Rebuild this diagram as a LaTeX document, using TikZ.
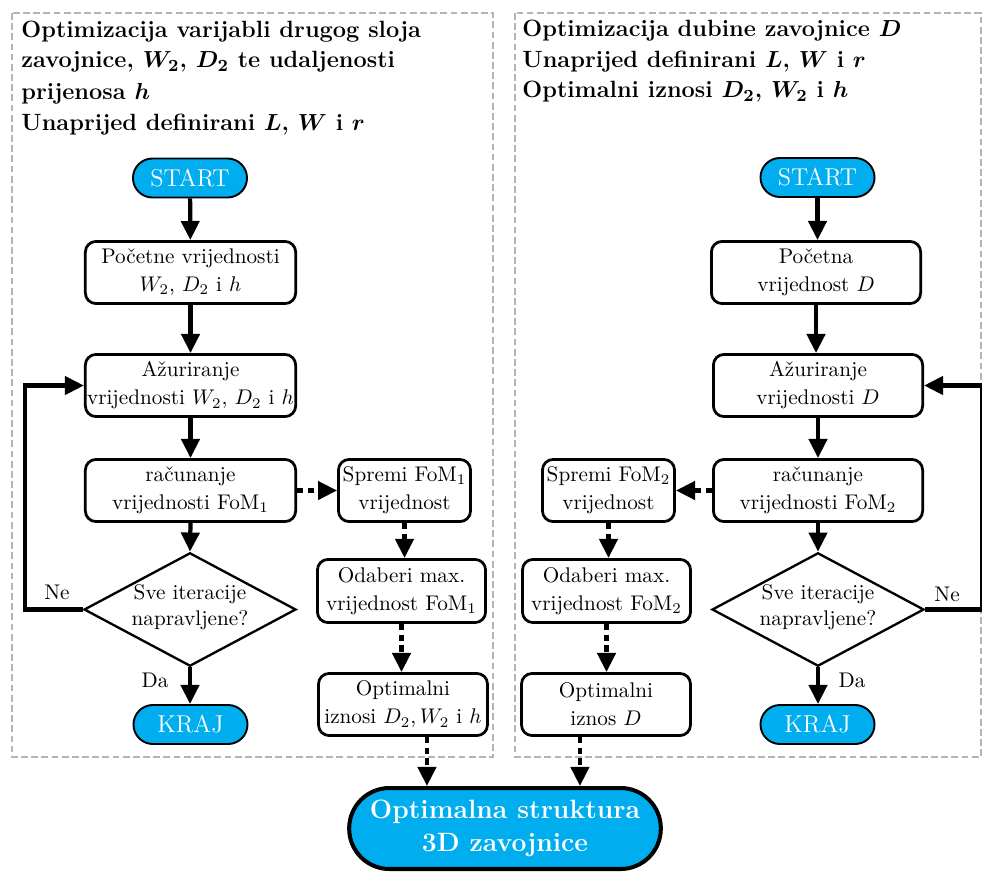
\documentclass[tikz,border=0pt]{standalone}
\usetikzlibrary{arrows.meta,shapes.geometric,calc}
\definecolor{cblue}{RGB}{0,174,239}
\definecolor{gboxc}{RGB}{180,180,180}
\begin{document}
\begin{tikzpicture}[x=0.4717pt,y=-0.4717pt,
  box/.style={draw, line width=1.3pt, rounded corners=5pt, align=center,
    font=\fontsize{10}{13.2}\selectfont, inner sep=0pt, minimum height=29.3pt},
  term/.style={draw, line width=0.9pt, fill=cblue, rounded corners=9.2pt,
    minimum width=53.8pt, minimum height=18.4pt, text=white,
    font=\fontsize{11.5}{13}\selectfont, inner sep=0pt},
  dia/.style={draw, diamond, line width=1.1pt, minimum width=100pt,
    minimum height=53.5pt, inner sep=0pt},
  diatext/.style={align=center, font=\fontsize{10}{12.2}\selectfont, inner sep=0pt},
  arr/.style={line width=2pt, -{Triangle[width=8.5pt,length=9pt]}},
  darr/.style={arr, dash pattern=on 3pt off 2pt},
  gbox/.style={draw=gboxc, line width=1.4pt, dash pattern=on 3.2pt off 1.6pt},
  ttl/.style={anchor=base west, inner sep=0pt, font=\fontsize{11.1}{14.6}\selectfont\bfseries\boldmath},
  lbl/.style={inner sep=0pt, font=\fontsize{10}{12}\selectfont},
  big/.style={draw, line width=1.9pt, fill=cblue, rounded corners=19pt,
    minimum width=147pt, minimum height=38.2pt, text=white, align=center,
    font=\fontsize{12.5}{15.7}\selectfont\bfseries, inner sep=0pt}
]
\useasboundingbox (0,0) rectangle (982,872);

% dashed group boxes
\draw[gbox] (12,13) rectangle (493,757);
\draw[gbox] (515,13) rectangle (981,757);

% titles
\node[ttl] (tl1) at (21,37.5) {Optimizacija varijabli drugog sloja};
\node[ttl] (tl2) at (21,68) {zavojnice, $W_2$, $D_2$ te udaljenosti};
\node[ttl] (tl3) at (21,99) {prijenosa $h$};
\node[ttl] (tl4) at (21,130) {Unaprijed definirani $L$, $W$ i $r$};
\node[ttl] (tr1) at (522,37) {Optimizacija dubine zavojnice $D$};
\node[ttl] (tr2) at (522,67.5) {Unaprijed definirani $L$, $W$ i $r$};
\node[ttl] (tr3) at (522,98) {Optimalni iznosi $D_2$, $W_2$ i $h$};

% left flow
\node[term] (s1) at (190,178) {START};
\node[box, minimum width=99.2pt] (p1) at (190.5,272.5) {Početne vrijednosti\\$W_2$, $D_2$ i $h$};
\node[box, minimum width=99.2pt] (a1) at (190.5,385.5) {Ažuriranje\\vrijednosti $W_2$, $D_2$ i $h$};
\node[box, minimum width=99.2pt] (r1) at (190.5,490.5) {računanje\\vrijednosti FoM$_1$};
\node[dia] (d1) at (190,609.5) {};
\node[diatext] (d1t) at (190,607.5) {Sve iteracije\\napravljene?};
\node[term] (k1) at (190.5,724.5) {KRAJ};
\node[box, minimum width=62.3pt] (sp1) at (404.5,490.5) {Spremi FoM$_1$\\vrijednost};
\node[box, minimum width=79.3pt, minimum height=29.8pt] (o1) at (401.5,591) {Odaberi max.\\vrijednost FoM$_1$};
\node[box, minimum width=79.7pt] (op1) at (403,704.5) {Optimalni\\iznosi $D_2,W_2$ i $h$};

% right flow
\node[term] (s2) at (817.5,177.5) {START};
\node[box, minimum width=98.7pt] (p2) at (816,272.5) {Početna\\vrijednost $D$};
\node[box, minimum width=98.7pt] (a2) at (818,385.5) {Ažuriranje\\vrijednosti $D$};
\node[box, minimum width=98.7pt] (r2) at (818,490.5) {računanje\\vrijednosti FoM$_2$};
\node[dia] (d2) at (818,609.5) {};
\node[diatext] (d2t) at (818,607.5) {Sve iteracije\\napravljene?};
\node[term] (k2) at (817.5,724.5) {KRAJ};
\node[box, minimum width=62.3pt] (sp2) at (608.5,490.5) {Spremi FoM$_2$\\vrijednost};
\node[box, minimum width=79.3pt, minimum height=29.8pt] (o2) at (606.5,591) {Odaberi max.\\vrijednost FoM$_2$};
\node[box, minimum width=79.7pt] (op2) at (606,704.5) {Optimalni\\iznos $D$};

% final node
\node[big] (fin) at (505,828.5) {Optimalna struktura\\3D zavojnice};

% left arrows
\draw[arr] (s1) -- (p1);
\draw[arr] (p1) -- (a1);
\draw[arr] (a1) -- (r1);
\draw[arr] (r1.south) -- (d1.north);
\draw[arr] (d1.south) -- (d1.south |- k1.north);
\draw[arr] (d1.west) -- ++(-58,0) |- (a1.west);
\draw[darr] (r1.east) -- (sp1.west);
\draw[darr] (sp1.south) -- (sp1.south |- o1.north);
\draw[darr] (o1.south) -- (o1.south |- op1.north);
\draw[darr] ([xshift=11.3pt]op1.south) -- ([xshift=11.3pt]op1.south |- fin.north);
\node[lbl] (ne1) at (57,592) {Ne};
\node[lbl] (da1) at (155,680) {Da};

% right arrows
\draw[arr] (s2.south) -- (s2.south |- p2.north);
\draw[arr] (p2.south) -- (p2.south |- a2.north);
\draw[arr] (a2) -- (r2);
\draw[arr] (r2.south) -- (d2.north);
\draw[arr] (d2.south) -- (d2.south |- k2.north);
\draw[arr] (d2.east) -- ++(57,0) |- (a2.east);
\draw[darr] (r2.west) -- (sp2.east);
\draw[darr] (sp2.south) -- (sp2.south |- o2.north);
\draw[darr] (o2.south) -- (o2.south |- op2.north);
\draw[darr] ([xshift=-12.3pt]op2.south) -- ([xshift=-12.3pt]op2.south |- fin.north);
\node[lbl] (ne2) at (947,594) {Ne};
\node[lbl] (da2) at (852,680) {Da};
\end{tikzpicture}
\end{document}
